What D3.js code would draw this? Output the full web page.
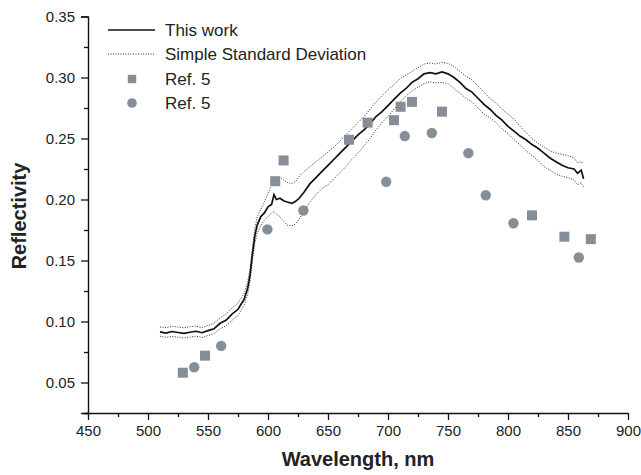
<!DOCTYPE html>
<html><head><meta charset="utf-8">
<script src="https://cdn.jsdelivr.net/npm/d3@7"></script>
<style>body{margin:0;background:#fff}svg{display:block}text{font-family:"Liberation Sans",Arial,sans-serif}</style>
</head><body>
<svg id="c" width="641" height="475"></svg>
<script>
const wl = [510,515,520,525,530,535,540,545,550,555,560,565,570,575,580,583,585,587,589,591,594,597,600,603,605,607,610,613,616,620,623,626,630,635,640,645,650,655,660,665,670,675,680,685,690,695,700,705,710,715,720,725,730,735,740,745,750,755,760,765,770,775,780,785,790,795,800,805,810,815,820,825,830,835,840,845,850,855,858,861,863];
const thisWork = [0.0915,0.0905,0.0918,0.0910,0.0903,0.0912,0.0920,0.0908,0.0925,0.0940,0.0985,0.1010,0.1060,0.1100,0.1180,0.1270,0.1380,0.1550,0.1700,0.1790,0.1860,0.1890,0.1940,0.1960,0.2040,0.2000,0.2010,0.1990,0.1980,0.1968,0.1985,0.2010,0.2060,0.2130,0.2180,0.2230,0.2280,0.2330,0.2380,0.2430,0.2480,0.2530,0.2570,0.2620,0.2680,0.2720,0.2770,0.2820,0.2870,0.2910,0.2960,0.2990,0.3030,0.3040,0.3030,0.3045,0.3030,0.3000,0.2960,0.2910,0.2880,0.2830,0.2780,0.2740,0.2690,0.2650,0.2600,0.2560,0.2520,0.2490,0.2450,0.2420,0.2380,0.2340,0.2310,0.2280,0.2260,0.2250,0.2215,0.2240,0.2170];
const stdUpper = [0.0955,0.0950,0.0960,0.0955,0.0948,0.0958,0.0962,0.0950,0.0968,0.0985,0.1030,0.1060,0.1110,0.1150,0.1230,0.1320,0.1430,0.1600,0.1760,0.1860,0.1920,0.1980,0.2050,0.2120,0.2160,0.2180,0.2185,0.2160,0.2140,0.2130,0.2150,0.2190,0.2230,0.2270,0.2310,0.2350,0.2390,0.2430,0.2480,0.2530,0.2580,0.2630,0.2680,0.2740,0.2800,0.2850,0.2900,0.2940,0.2990,0.3020,0.3050,0.3080,0.3110,0.3120,0.3110,0.3125,0.3115,0.3090,0.3050,0.3010,0.2980,0.2930,0.2880,0.2830,0.2790,0.2740,0.2700,0.2660,0.2600,0.2550,0.2500,0.2460,0.2430,0.2400,0.2380,0.2370,0.2360,0.2340,0.2300,0.2310,0.2290];
const stdLower = [0.0880,0.0870,0.0878,0.0872,0.0865,0.0872,0.0880,0.0868,0.0885,0.0900,0.0940,0.0965,0.1010,0.1050,0.1130,0.1220,0.1330,0.1500,0.1640,0.1720,0.1790,0.1830,0.1860,0.1890,0.1900,0.1880,0.1860,0.1820,0.1790,0.1785,0.1800,0.1840,0.1900,0.1980,0.2040,0.2090,0.2120,0.2170,0.2220,0.2270,0.2330,0.2380,0.2440,0.2500,0.2570,0.2630,0.2680,0.2740,0.2800,0.2850,0.2890,0.2920,0.2950,0.2965,0.2955,0.2960,0.2950,0.2910,0.2870,0.2830,0.2800,0.2750,0.2700,0.2670,0.2630,0.2580,0.2540,0.2490,0.2450,0.2400,0.2360,0.2320,0.2270,0.2240,0.2210,0.2190,0.2180,0.2160,0.2120,0.2140,0.2100];
const refSquareX = [529,547.5,606,613,667.5,683,705,710.5,720,745,820,847,869];
const refSquareY = [0.058,0.072,0.215,0.232,0.249,0.263,0.265,0.276,0.280,0.272,0.187,0.1695,0.1675];
const refCircleX = [538.5,561,599.5,629.5,698.5,714,736.5,767,781.5,804.5,859];
const refCircleY = [0.0625,0.080,0.1755,0.191,0.2145,0.252,0.2545,0.238,0.2035,0.1805,0.1525];
const xTicks = [450,500,550,600,650,700,750,800,850,900];
const xMinor = [475,525,575,625,675,725,775,825,875];
const yTicks = [0.05,0.10,0.15,0.20,0.25,0.30,0.35];
const yMinor = [0.025,0.075,0.125,0.175,0.225,0.275,0.325];
const legendLabels = ["This work","Simple Standard Deviation","Ref. 5","Ref. 5"];

const svg = d3.select("#c");
const x = d3.scaleLinear().domain([450,900]).range([88,628]);
const y = d3.scaleLinear().domain([0.025,0.35]).range([413,16.5]);
const mark = "#868e97";

// axes
const gx = svg.append("g").attr("transform","translate(0,413)");
gx.call(d3.axisBottom(x).tickValues(xMinor).tickSize(4).tickFormat(""));
const gx2 = svg.append("g").attr("transform","translate(0,413)");
gx2.call(d3.axisBottom(x).tickValues(xTicks).tickSize(7).tickPadding(5).tickFormat(d3.format("d")));
const gy = svg.append("g").attr("transform","translate(88,0)");
gy.call(d3.axisLeft(y).tickValues(yMinor).tickSize(4).tickFormat(""));
const gy2 = svg.append("g").attr("transform","translate(88,0)");
gy2.call(d3.axisLeft(y).tickValues(yTicks).tickSize(7).tickPadding(6).tickFormat(d3.format(".2f")));
svg.selectAll(".domain").attr("stroke","#111").attr("stroke-width",1.4);
svg.selectAll(".tick line").attr("stroke","#111").attr("stroke-width",1.3);
svg.selectAll(".tick text").attr("font-size",15).attr("fill","#222").attr("font-family","'Liberation Sans',Arial,sans-serif");
gx.select(".domain").remove(); gy.select(".domain").remove();
gx2.select(".domain").attr("d","M84,0.5H628");

// titles
svg.append("text").attr("x",358).attr("y",466).attr("text-anchor","middle")
  .attr("font-size",20).attr("font-weight","bold").attr("fill","#222").text("Wavelength, nm");
svg.append("text").attr("transform","translate(26,216) rotate(-90)").attr("text-anchor","middle")
  .attr("font-size",20).attr("font-weight","bold").attr("fill","#222").text("Reflectivity");

// lines
const idx = d3.range(wl.length);
const lineOf = arr => d3.line().x(i=>x(wl[i])).y(i=>y(arr[i]));
svg.append("path").attr("d",lineOf(stdUpper)(idx)).attr("fill","none").attr("stroke","#333").attr("stroke-width",1).attr("stroke-dasharray","1,1.5");
svg.append("path").attr("d",lineOf(stdLower)(idx)).attr("fill","none").attr("stroke","#333").attr("stroke-width",1).attr("stroke-dasharray","1,1.5");
svg.append("path").attr("d",lineOf(thisWork)(idx)).attr("fill","none").attr("stroke","#111").attr("stroke-width",1.7);

// markers
svg.append("g").selectAll("rect").data(d3.range(refSquareX.length)).join("rect")
  .attr("x",i=>x(refSquareX[i])-5).attr("y",i=>y(refSquareY[i])-5).attr("width",10).attr("height",10).attr("fill",mark);
svg.append("g").selectAll("circle").data(d3.range(refCircleX.length)).join("circle")
  .attr("cx",i=>x(refCircleX[i])).attr("cy",i=>y(refCircleY[i])).attr("r",5.2).attr("fill",mark);

// legend
const lg = svg.append("g");
const rowY = [30,54,79,103];
lg.append("line").attr("x1",108).attr("x2",155).attr("y1",rowY[0]).attr("y2",rowY[0]).attr("stroke","#111").attr("stroke-width",1.5);
lg.append("line").attr("x1",108).attr("x2",155).attr("y1",rowY[1]).attr("y2",rowY[1]).attr("stroke","#333").attr("stroke-width",1).attr("stroke-dasharray","1,1.5");
lg.append("rect").attr("x",132-4.2).attr("y",rowY[2]-4.2).attr("width",8.4).attr("height",8.4).attr("fill",mark);
lg.append("circle").attr("cx",132).attr("cy",rowY[3]).attr("r",4.8).attr("fill",mark);
legendLabels.forEach((t,i)=>{
  lg.append("text").attr("x",165).attr("y",rowY[i]+6).attr("font-size",17).attr("fill","#222").text(t);
});
</script>
</body></html>
